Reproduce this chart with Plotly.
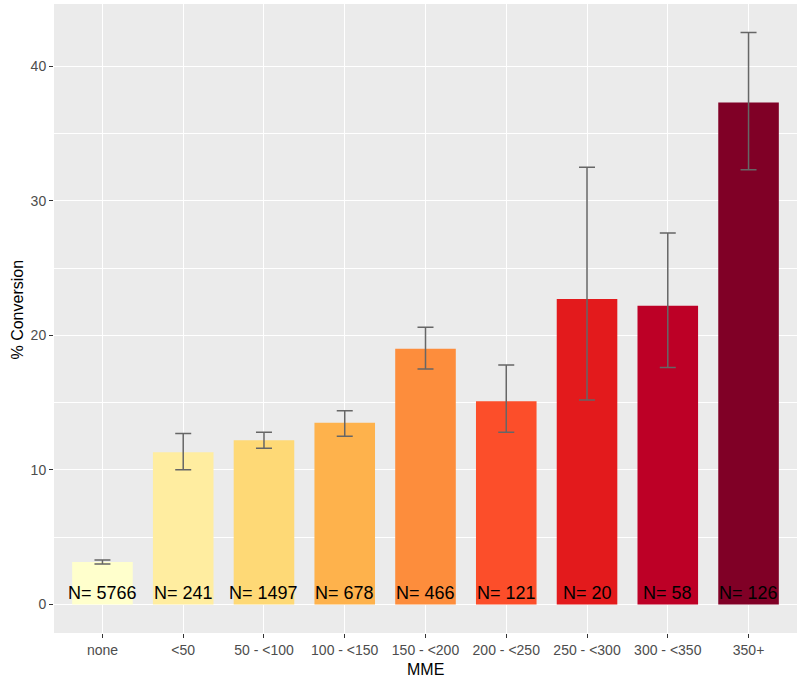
import plotly.graph_objects as go

categories = ["none", "<50", "50 - <100", "100 - <150", "150 - <200",
              "200 - <250", "250 - <300", "300 - <350", "350+"]
conversion = [3.15, 11.3, 12.2, 13.5, 19.0, 15.1, 22.7, 22.2, 37.3]
err_low = [3.0, 10.0, 11.6, 12.5, 17.5, 12.8, 15.2, 17.6, 32.3]
err_high = [3.3, 12.7, 12.8, 14.4, 20.6, 17.8, 32.5, 27.6, 42.5]
counts = [5766, 241, 1497, 678, 466, 121, 20, 58, 126]
colors = ["#FFFFCC", "#FFEDA0", "#FED976", "#FEB24C", "#FD8D3C",
          "#FC4E2A", "#E31A1C", "#BD0026", "#800026"]

plus = [h - v for h, v in zip(err_high, conversion)]
minus = [v - l for l, v in zip(err_low, conversion)]

FONT = "Liberation Sans, Arial"

fig = go.Figure()
fig.add_trace(go.Bar(
    x=categories, y=conversion, width=0.75,
    marker=dict(color=colors, line=dict(width=0)),
    error_y=dict(type="data", symmetric=False, array=plus, arrayminus=minus,
                 color="#666666", thickness=1.5, width=8),
    showlegend=False,
))

for c, n in zip(categories, counts):
    fig.add_annotation(x=c, y=0, text=f"N= {n}", showarrow=False,
                       yanchor="bottom", yshift=-1,
                       font=dict(family=FONT, size=18, color="black"))

# axis titles
fig.add_annotation(xref="paper", yref="paper", x=0.5, y=0, yshift=-26,
                   xanchor="center", yanchor="top", showarrow=False,
                   text="MME", font=dict(family=FONT, size=16, color="black"))
fig.add_annotation(xref="paper", yref="paper", x=0, xshift=-37, y=0.5, yshift=9,
                   xanchor="center", yanchor="middle", showarrow=False, textangle=-90,
                   text="% Conversion", font=dict(family=FONT, size=16, color="black"))

fig.update_layout(
    width=800, height=681,
    margin=dict(l=54, r=3, t=4, b=48, autoexpand=False),
    paper_bgcolor="white", plot_bgcolor="#EBEBEB",
    font=dict(family=FONT, color="#4D4D4D"),
    bargap=0.25,
)
fig.update_xaxes(
    range=[-0.6, 8.6], showgrid=True, gridcolor="white", gridwidth=1.2,
    ticks="outside", ticklen=4, tickcolor="#333333", tickwidth=1,
    tickfont=dict(size=14, color="#4D4D4D"), automargin=False,
    zeroline=False, showline=False,
)
fig.update_yaxes(
    range=[-2.125, 44.625], tickvals=[0, 10, 20, 30, 40],
    showgrid=True, gridcolor="white", gridwidth=1.2,
    minor=dict(tickvals=[5, 15, 25, 35], showgrid=True, gridcolor="white", gridwidth=0.6, ticks=""),
    ticks="outside", ticklen=4, tickcolor="#333333", tickwidth=1,
    tickfont=dict(size=14, color="#4D4D4D"), automargin=False,
    zeroline=False, showline=False,
)

fig.write_html("out.html", config={"displayModeBar": False},
               post_script="document.body.style.margin='0';")
